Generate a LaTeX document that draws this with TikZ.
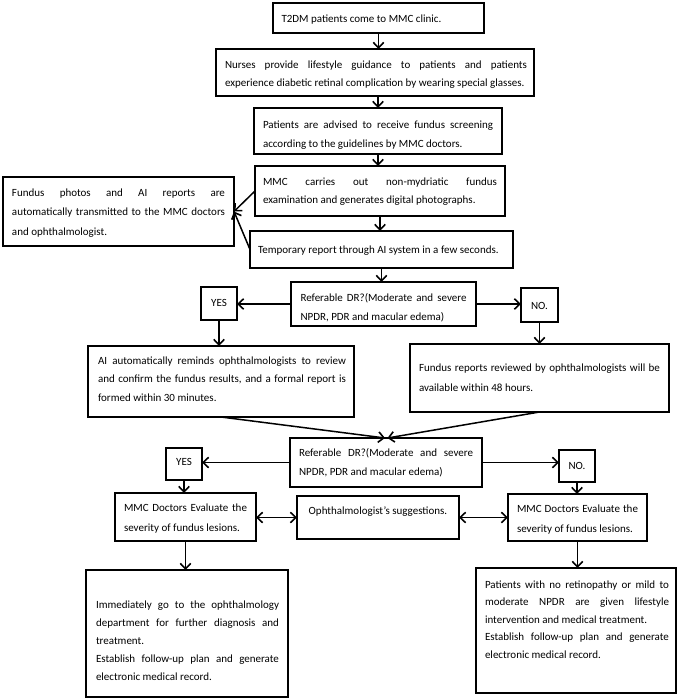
\documentclass[tikz,border=0pt]{standalone}
\usepackage{fontspec}
\setmainfont{Carlito}
\usetikzlibrary{arrows.meta}
\newlength\padL
\newlength\tw
\newcommand\tJ[1]{\noindent\hspace*{\padL}\makebox[\tw][s]{\rule{0pt}{9pt}#1}\par}
\newcommand\tN[1]{\noindent\hspace*{\padL}\rule{0pt}{9pt}#1\par}
\newcommand\tC[1]{\noindent\makebox[\linewidth]{\rule{0pt}{9pt}#1}\par}
\newcommand\bxc[5]{\parbox[c][#2pt][t]{#1pt}{\fontsize{11}{#4}\selectfont\vskip\dimexpr #3pt - 9pt\relax #5}}
\tikzset{
  box/.style={draw, line width=1.5pt, inner sep=0pt, outer sep=0pt, anchor=north west},
  tip/.tip={Straight Barb[length=5.5pt,width=10.5pt,line width=1.6pt]},
  arr/.style={line width=1.5pt, -tip},
  darr/.style={line width=1.5pt, tip-tip},
}
\begin{document}
\begin{tikzpicture}[x=1pt,y=-1pt]
\fill[white] (0,0) rectangle (680,698);
\useasboundingbox (0,0) rectangle (680,698);

\node[box] (b1) at (273,3) {\bxc{211}{30}{19.5}{19}{\padL=8.5pt \tN{T2DM patients come to MMC clinic.}}};
\node[box] (b2) at (216,49) {\bxc{318}{47}{19.5}{18}{\padL=9pt \tw=302pt
  \tJ{Nurses provide lifestyle guidance to patients and patients}
  \tN{experience diabetic retinal complication by wearing special glasses.}}};
\node[box] (b3) at (254,108) {\bxc{248}{46}{20}{19.5}{\padL=9pt \tw=230pt
  \tJ{Patients are advised to receive fundus screening}
  \tN{according to the guidelines by MMC doctors.}}};
\node[box] (b4) at (255,166) {\bxc{250}{50}{19}{18}{\padL=8pt \tw=234pt
  \tJ{MMC carries out non-mydriatic fundus}
  \tN{examination and generates digital photographs.}}};
\node[box] (b5) at (250,231) {\bxc{263}{37}{22.5}{19}{\padL=8pt
  \tN{Temporary report through AI system in a few seconds.}}};
\node[box] (lb) at (3,177) {\bxc{231}{69}{19}{19.5}{\padL=9pt \tw=213pt
  \tJ{Fundus photos and AI reports are}
  \tJ{automatically transmitted to the MMC doctors}
  \tN{and ophthalmologist.}}};

\node[box] (ref1) at (291,282) {\bxc{185}{44}{19}{19}{\padL=9.5pt \tw=166pt
  \tJ{Referable DR?(Moderate and severe}
  \tN{NPDR, PDR and macular edema)}}};
\node[box] (yes1) at (201,287) {\bxc{36}{33}{19}{19}{\tC{YES}}};
\node[box] (no1) at (521,288) {\bxc{37}{34}{21.5}{19}{\tC{NO.}}};

\node[box] (ai) at (88,346) {\bxc{266}{71}{18}{18.7}{\padL=10pt \tw=248pt
  \tJ{AI automatically reminds ophthalmologists to review}
  \tJ{and confirm the fundus results, and a formal report is}
  \tN{formed within 30 minutes.}}};
\node[box] (fr) at (410,344) {\bxc{259}{68}{27}{20}{\padL=9pt \tw=241pt
  \tJ{Fundus reports reviewed by ophthalmologists will be}
  \tN{available within 48 hours.}}};

\node[box] (ref2) at (290,438) {\bxc{192}{49}{18}{19}{\padL=9pt \tw=174pt
  \tJ{Referable DR?(Moderate and severe}
  \tN{NPDR, PDR and macular edema)}}};
\node[box] (yes2) at (166,448) {\bxc{36}{32}{17.5}{19}{\tC{YES}}};
\node[box] (no2) at (559,450) {\bxc{36}{32}{19.5}{19}{\tC{NO.}}};

\node[box] (lm) at (115,493) {\bxc{141}{48}{18.5}{19.5}{\padL=9pt \tw=123pt
  \tJ{MMC Doctors Evaluate the}
  \tN{severity of fundus lesions.}}};
\node[box] (op) at (297,496) {\bxc{162}{43}{18}{19}{\tC{Ophthalmologist's suggestions.}}};
\node[box] (rm) at (508,494) {\bxc{139}{47}{18.5}{19.5}{\padL=9pt \tw=121pt
  \tJ{MMC Doctors Evaluate the}
  \tN{severity of fundus lesions.}}};

\node[box] (bl) at (86,570) {\bxc{202}{127}{38}{18.2}{\padL=10pt \tw=183pt
  \tJ{Immediately go to the ophthalmology}
  \tJ{department for further diagnosis and}
  \tN{treatment.}
  \tJ{Establish follow-up plan and generate}
  \tN{electronic medical record.}}};
\node[box] (br) at (476,568) {\bxc{200}{125}{20}{17.6}{\padL=9pt \tw=184pt
  \tJ{Patients with no retinopathy or mild to}
  \tJ{moderate NPDR are given lifestyle}
  \tN{intervention and medical treatment.}
  \tJ{Establish follow-up plan and generate}
  \tN{electronic medical record.}}};

% connectors
\draw[arr] (b1.south) -- (b1.south |- b2.north);
\draw[arr] (b3.north |- b2.south) -- (b3.north);
\draw[arr] (b3.south) -- (b3.south |- b4.north);
\draw[arr] (b4.south) -- (b4.south |- b5.north);
\draw[arr] (b4.west) -- (lb.east);
\draw[arr] (b5.west) -- (lb.east);
\draw[arr] (b5.south) -- (b5.south |- ref1.north);
\draw[arr] (ref1.west) -- (ref1.west -| yes1.east);
\draw[arr] (ref1.east) -- (ref1.east -| no1.west);
\draw[arr] (yes1.south) -- (yes1.south |- ai.north);
\draw[arr] (no1.south) -- (no1.south |- fr.north);
\draw[arr] (ai.south) -- ([xshift=-1pt]ref2.north);
\draw[arr] (fr.south) -- ([xshift=1.5pt]ref2.north);
\draw[arr] (ref2.west) -- (ref2.west -| yes2.east);
\draw[arr] (ref2.east) -- (ref2.east -| no2.west);
\draw[arr] (yes2.south) -- (yes2.south |- lm.north);
\draw[arr] (no2.south) -- (no2.south |- rm.north);
\draw[darr] (lm.east |- op.west) -- (op.west);
\draw[darr] (op.east) -- (op.east -| rm.west);
\draw[arr] (lm.south) -- (lm.south |- bl.north);
\draw[arr] (rm.south) -- (rm.south |- br.north);
\end{tikzpicture}
\end{document}
